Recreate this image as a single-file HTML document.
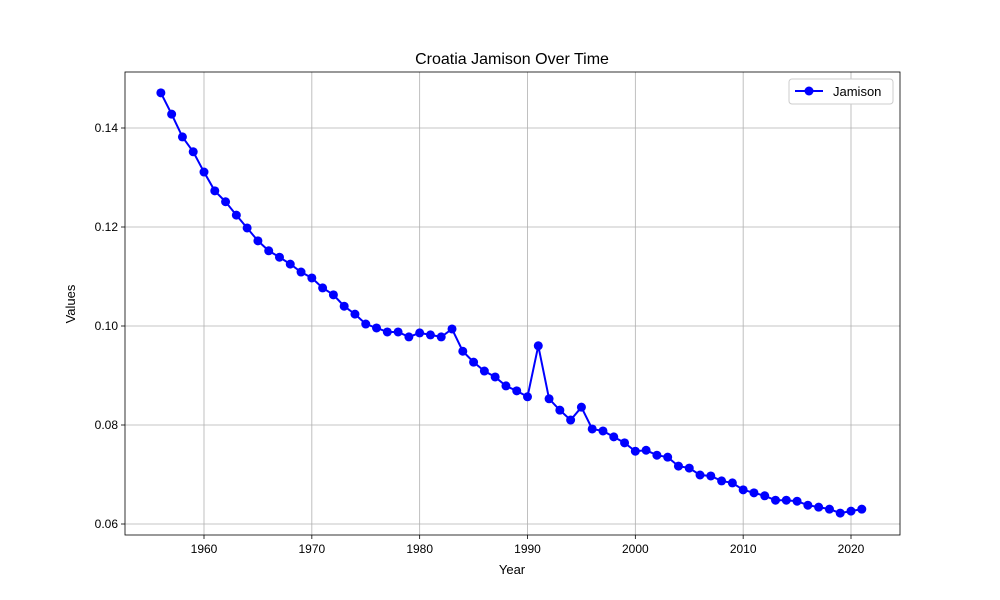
<!DOCTYPE html>
<html><head><meta charset="utf-8">
<style>
body{margin:0;background:#fff;}
svg{display:block;font-family:"Liberation Sans","DejaVu Sans",sans-serif;}
</style></head>
<body>
<svg id="chart" width="1000" height="600" xmlns="http://www.w3.org/2000/svg">
<rect width="1000" height="600" fill="#fff"/>
<g id="grid"></g>
<g id="axes"></g>
<g id="series"></g>
<text x="512" y="64" text-anchor="middle" font-size="16">Croatia Jamison Over Time</text>
<text x="512" y="574" text-anchor="middle" font-size="13">Year</text>
<text x="75" y="304" text-anchor="middle" font-size="13" transform="rotate(-90 75 304)">Values</text>
<g>
<rect x="789" y="79" width="104" height="25" fill="#fff" stroke="#ccc" rx="3"/>
<line x1="795" y1="91" x2="823" y2="91" stroke="#0000ff" stroke-width="2"/>
<circle cx="809" cy="91" r="4.5" fill="#0000ff"/>
<text x="833" y="96" font-size="13">Jamison</text>
</g>
</svg>
<script>
const years = [];
for (let y = 1956; y <= 2021; y++) years.push(y);
const values = [0.1471,0.1428,0.1382,0.1352,0.1311,0.1273,0.1251,0.1224,0.1198,0.1172,0.1152,0.1139,0.1125,0.1109,0.1097,0.1077,0.1063,0.1040,0.1024,0.1004,0.0996,0.0988,0.0988,0.0978,0.0986,0.0982,0.0978,0.0994,0.0949,0.0927,0.0909,0.0897,0.0879,0.0869,0.0857,0.0960,0.0853,0.0830,0.0810,0.0836,0.0792,0.0788,0.0776,0.0764,0.0747,0.0749,0.0739,0.0735,0.0717,0.0713,0.0699,0.0697,0.0687,0.0683,0.0669,0.0663,0.0657,0.0648,0.0648,0.0646,0.0638,0.0634,0.0630,0.0622,0.0626,0.0630];
const xTicks = [1960,1970,1980,1990,2000,2010,2020];
const yTicks = [0.06,0.08,0.10,0.12,0.14];
const yTickLabels = ["0.06","0.08","0.10","0.12","0.14"];

const L=125,R=900,T=72,B=535;
const x = v => 204 + (v-1960)*(851-204)/60;
const y = v => 524 - (v-0.06)*(524-128)/0.08;
const ns="http://www.w3.org/2000/svg";
function mk(tag, attrs, parent){const e=document.createElementNS(ns,tag);for(const k in attrs)e.setAttribute(k,attrs[k]);parent.appendChild(e);return e;}
const grid=document.getElementById('grid'), axes=document.getElementById('axes'), series=document.getElementById('series');

xTicks.forEach(t=>{
  const g=mk('line',{x1:x(t),x2:x(t),y1:T,y2:B,stroke:'#b0b0b0','stroke-width':0.8},grid);
  
  
  mk('line',{x1:x(t),x2:x(t),y1:B,y2:B+4,stroke:'#000','stroke-width':0.8},axes);
  const tx=mk('text',{x:x(t),y:B+18,'text-anchor':'middle','font-size':12},axes);
  tx.textContent=t;
  
  
});
yTicks.forEach((t,i)=>{
  const g=mk('line',{x1:L,x2:R,y1:y(t),y2:y(t),stroke:'#b0b0b0','stroke-width':0.8},grid);
  
  
  mk('line',{x1:L-4,x2:L,y1:y(t),y2:y(t),stroke:'#000','stroke-width':0.8},axes);
  const tx=mk('text',{x:L-7,y:y(t)+4,'text-anchor':'end','font-size':12},axes);
  tx.textContent=yTickLabels[i];
  
  
});
const frame=mk('rect',{x:L,y:T,width:R-L,height:B-T,fill:'none',stroke:'#000','stroke-width':0.8},axes);



const pts=years.map((yr,i)=>x(yr)+','+y(values[i])).join(' ');
const line=mk('polyline',{points:pts,fill:'none',stroke:'#0000ff','stroke-width':2},series);


years.forEach((yr,i)=>{
  const c=mk('circle',{cx:x(yr),cy:y(values[i]),r:4.5,fill:'#0000ff'},series);
  
  
});
</script>
</body></html>
